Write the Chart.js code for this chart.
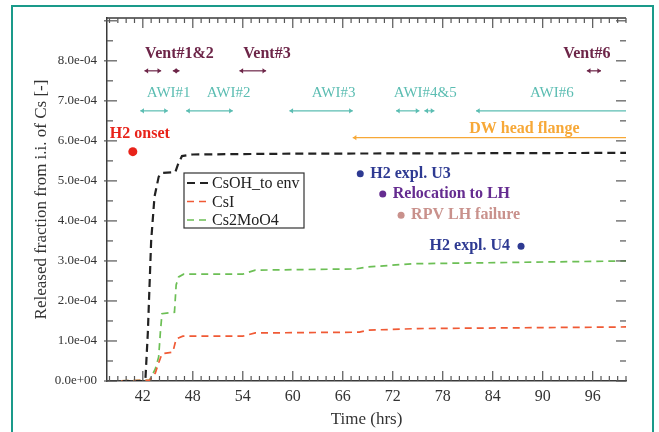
<!DOCTYPE html>
<html>
<head>
<meta charset="utf-8">
<title>Cs release</title>
<script src="https://cdn.jsdelivr.net/npm/chart.js@4.4.1/dist/chart.umd.min.js"></script>
<style>
  html, body { margin: 0; padding: 0; background: #fff; }
  #wrap { position: relative; width: 659px; height: 432px; overflow: hidden; }
  #frame { position: absolute; left: 11px; top: 5px; width: 643px; height: 450px; border: 2px solid #1a9a8a; box-sizing: border-box; }
  canvas { position: absolute; left: 0; top: 0; }
</style>
</head>
<body>
<div id="wrap">
  <div id="frame"></div>
  <canvas id="releaseChart" width="659" height="432"></canvas>
</div>
<script>
// released fraction of initial Cs inventory vs. time (hrs)
const timeCsOH = [38, 42.3, 42.6, 43.0, 43.4, 43.9, 44.3, 45.9, 46.2, 46.7, 48, 60, 80, 100];
const csOH     = [0, 0, 1.2e-4, 3.5e-4, 4.6e-4, 5.1e-4, 5.2e-4, 5.22e-4, 5.4e-4, 5.62e-4, 5.66e-4, 5.68e-4, 5.69e-4, 5.7e-4];

const timeCsI = [38, 42.8, 43.5, 43.9, 44.3, 45.6, 46.0, 46.8, 54, 55.5, 68, 69, 75, 100];
const csI     = [0, 0.02e-4, 0.2e-4, 0.45e-4, 0.68e-4, 0.72e-4, 1.05e-4, 1.12e-4, 1.12e-4, 1.2e-4, 1.22e-4, 1.27e-4, 1.31e-4, 1.35e-4];

const timeCs2MoO4 = [38, 42.8, 43.5, 43.9, 44.1, 44.3, 45.8, 46.0, 46.3, 46.9, 54, 55.5, 67.5, 69, 74.4, 100];
const cs2MoO4     = [0, 0.02e-4, 0.3e-4, 0.6e-4, 1.2e-4, 1.68e-4, 1.72e-4, 2.4e-4, 2.6e-4, 2.67e-4, 2.67e-4, 2.77e-4, 2.8e-4, 2.85e-4, 2.93e-4, 3.0e-4];

const xTicks = [42, 48, 54, 60, 66, 72, 78, 84, 90, 96];
const yTicks = [0, 1e-4, 2e-4, 3e-4, 4e-4, 5e-4, 6e-4, 7e-4, 8e-4];

// venting / AWI periods (hrs)
const ventNames  = ['Vent#1&2', 'Vent#3', 'Vent#6'];
const ventNameAt = [46.4, 56.9, 95.3];
const ventStart  = [42.2, 45.6, 53.6, 95.3];
const ventEnd    = [44.2, 46.4, 56.8, 97.0];

const awiNames  = ['AWI#1', 'AWI#2', 'AWI#3', 'AWI#4&5', 'AWI#6'];
const awiNameAt = [45.1, 52.3, 64.9, 75.9, 91.1];
const awiStart  = [41.7, 47.2, 59.6, 72.4, 75.8, 82.0];
const awiEnd    = [45.0, 52.8, 67.2, 75.2, 77.0, 100];

const flangeName = 'DW head flange';
const flangeStart = 67.2;
const flangeEnd = 100;

// single events
const eventNames = ['H2 onset', 'H2 expl. U3', 'Relocation to LH', 'RPV LH failure', 'H2 expl. U4'];
const eventTime  = [40.8, 68.1, 70.8, 73.0, 87.4];
const eventLevel = [5.73e-4, 5.18e-4, 4.67e-4, 4.14e-4, 3.37e-4];

// rows used by the period annotations (y units)
const rows = { ventText: 8.18e-4, ventArrow: 7.75e-4, awiText: 7.19e-4, awiArrow: 6.75e-4, flangeText: 6.31e-4, flangeArrow: 6.08e-4, onsetText: 6.17e-4 };

const colors = {
  vent: '#6d2548', awi: '#5bbdb2', flange: '#f7a837',
  events: ['#e8231a', '#2e3a92', '#652c90', '#c9918c', '#2e3a92']
};
const labelSide = ['above', 'right', 'right', 'right', 'left'];
const serif = '"Liberation Serif", "Times New Roman", serif';

const pts = (xs, ys) => xs.map((t, i) => ({ x: t, y: ys[i] }));

function fmtExp(v) {
  if (Math.abs(v) < 1e-12) return '0.0e+00';
  const e = Math.floor(Math.log10(v) + 1e-9);
  const m = (v / Math.pow(10, e)).toFixed(1);
  const sign = e < 0 ? '-' : '+';
  return m + 'e' + sign + String(Math.abs(e)).padStart(2, '0');
}

function arrowHead(ctx, x, y, dir, size) {
  ctx.beginPath();
  ctx.moveTo(x, y);
  ctx.lineTo(x - dir * size * 1.4, y - size);
  ctx.lineTo(x - dir * size * 1.4, y + size);
  ctx.closePath();
  ctx.fill();
}

function hArrow(ctx, x1, x2, y, color, both) {
  ctx.strokeStyle = color;
  ctx.fillStyle = color;
  ctx.lineWidth = 1.2;
  ctx.beginPath();
  ctx.moveTo(x1, y);
  ctx.lineTo(x2, y);
  ctx.stroke();
  arrowHead(ctx, x1, y, -1, 2.6);
  if (both) arrowHead(ctx, x2, y, 1, 2.6);
}

// inward ticks on all four sides, top edge line
const frameTicks = {
  id: 'frameTicks',
  afterDraw(chart) {
    const { ctx, chartArea: a, scales: { x, y } } = chart;
    const seg = (x1, y1, x2, y2) => { ctx.beginPath(); ctx.moveTo(x1, y1); ctx.lineTo(x2, y2); ctx.stroke(); };
    ctx.save();
    ctx.strokeStyle = '#3a3a3a';
    ctx.lineWidth = 1.5;
    seg(a.left, a.top, a.right, a.top);
    ctx.strokeStyle = '#555';
    ctx.lineWidth = 1.2;
    for (let h = Math.ceil(x.min); h <= x.max; h++) {
      const px = x.getPixelForValue(h);
      const len = h % 6 === 0 ? 10 : 5;
      seg(px, a.bottom, px, a.bottom - len);
      seg(px, a.top, px, a.top + len);
    }
    for (let k = 0; k * 0.5e-4 <= y.max; k++) {
      const py = y.getPixelForValue(k * 0.5e-4);
      const major = k % 2 === 0;
      if (major) seg(a.left - 3, py, a.left + 10, py); else seg(a.left, py, a.left + 6, py);
      seg(a.right - (major ? 10 : 6), py, a.right, py);
    }
    ctx.restore();
  }
};

// period arrows, event labels and the legend box
const eventNotes = {
  id: 'eventNotes',
  afterDatasetsDraw(chart) {
    const { ctx, scales: { x, y } } = chart;
    ctx.save();
    ctx.textBaseline = 'middle';
    ctx.textAlign = 'center';

    ctx.font = 'bold 16px ' + serif;
    ctx.fillStyle = colors.vent;
    ventNames.forEach((n, i) => ctx.fillText(n, x.getPixelForValue(ventNameAt[i]), y.getPixelForValue(rows.ventText)));
    ventStart.forEach((s, i) => hArrow(ctx, x.getPixelForValue(s), x.getPixelForValue(ventEnd[i]), y.getPixelForValue(rows.ventArrow), colors.vent, true));

    ctx.font = '15px ' + serif;
    ctx.fillStyle = colors.awi;
    awiNames.forEach((n, i) => ctx.fillText(n, x.getPixelForValue(awiNameAt[i]), y.getPixelForValue(rows.awiText)));
    awiStart.forEach((s, i) => {
      const open = awiEnd[i] >= x.max;
      hArrow(ctx, x.getPixelForValue(s), x.getPixelForValue(awiEnd[i]), y.getPixelForValue(rows.awiArrow), colors.awi, !open);
    });

    ctx.font = 'bold 16px ' + serif;
    ctx.fillStyle = colors.flange;
    ctx.fillText(flangeName, x.getPixelForValue(87.8), y.getPixelForValue(rows.flangeText));
    hArrow(ctx, x.getPixelForValue(flangeStart), x.getPixelForValue(flangeEnd), y.getPixelForValue(rows.flangeArrow), colors.flange, false);

    eventNames.forEach((n, i) => {
      const px = x.getPixelForValue(eventTime[i]);
      const py = y.getPixelForValue(eventLevel[i]);
      ctx.fillStyle = colors.events[i];
      if (labelSide[i] === 'above') {
        ctx.textAlign = 'center';
        ctx.fillText(n, px + 7, y.getPixelForValue(rows.onsetText));
      } else if (labelSide[i] === 'right') {
        ctx.textAlign = 'left';
        ctx.fillText(n, px + 10, py);
      } else {
        ctx.textAlign = 'right';
        ctx.fillText(n, px - 11, py);
      }
    });

    // legend for the three release curves
    const box = { left: 184, top: 173, width: 120, height: 55 };
    ctx.fillStyle = '#fff';
    ctx.fillRect(box.left, box.top, box.width, box.height);
    ctx.strokeStyle = '#333';
    ctx.lineWidth = 1.2;
    ctx.strokeRect(box.left, box.top, box.width, box.height);
    ctx.beginPath();
    ctx.rect(box.left, box.top, box.width, box.height);
    ctx.clip();
    ctx.font = '16px ' + serif;
    ctx.textAlign = 'left';
    chart.data.datasets.filter(d => d.showLine !== false).forEach((d, i) => {
      const ly = box.top + 10 + i * 18.5;
      ctx.strokeStyle = d.borderColor;
      ctx.lineWidth = d.borderWidth;
      ctx.setLineDash(d.borderDash);
      ctx.beginPath();
      ctx.moveTo(box.left + 3, ly);
      ctx.lineTo(box.left + 25, ly);
      ctx.stroke();
      ctx.setLineDash([]);
      ctx.fillStyle = '#222';
      ctx.fillText(d.label, box.left + 28, ly + 1);
    });
    ctx.restore();
  }
};

new Chart(document.getElementById('releaseChart'), {
  type: 'scatter',
  data: {
    datasets: [
      { label: 'CsOH_to env', data: pts(timeCsOH, csOH), showLine: true, borderColor: '#222', borderWidth: 2.2, borderDash: [8, 5], pointRadius: 0, tension: 0 },
      { label: 'CsI', data: pts(timeCsI, csI), showLine: true, borderColor: '#f05a35', borderWidth: 1.7, borderDash: [7, 5], pointRadius: 0, tension: 0 },
      { label: 'Cs2MoO4', data: pts(timeCs2MoO4, cs2MoO4), showLine: true, borderColor: '#6cbf55', borderWidth: 1.7, borderDash: [7, 5], pointRadius: 0, tension: 0 },
      {
        label: 'events', data: pts(eventTime, eventLevel), showLine: false,
        pointBackgroundColor: colors.events, pointBorderWidth: 0,
        pointRadius: [4.5, 3.5, 3.5, 3.5, 3.5]
      }
    ]
  },
  options: {
    responsive: false,
    animation: false,
    layout: { padding: { top: 18, right: 33, left: 0, bottom: 0 } },
    plugins: { legend: { display: false }, tooltip: { enabled: false } },
    scales: {
      x: {
        type: 'linear', min: 37.7, max: 100,
        afterBuildTicks: s => { s.ticks = xTicks.map(v => ({ value: v })); },
        afterFit: s => { s.height = 51; },
        grid: { display: false, drawTicks: false },
        border: { display: true, color: '#3a3a3a', width: 1.5 },
        ticks: { padding: 6, color: '#333', font: { family: serif, size: 16 }, callback: v => String(v) },
        title: { display: true, text: 'Time (hrs)', color: '#333', padding: { top: 0, bottom: 2 }, font: { family: serif, size: 17 } }
      },
      y: {
        type: 'linear', min: 0, max: 9.07e-4,
        afterBuildTicks: s => { s.ticks = yTicks.map(v => ({ value: v })); },
        afterFit: s => { s.width = 107; },
        grid: { display: false, drawTicks: false },
        border: { display: true, color: '#3a3a3a', width: 1.5 },
        ticks: { padding: 10, color: '#333', font: { family: serif, size: 13 }, callback: v => fmtExp(v) },
        title: { display: true, text: 'Released fraction from i.i. of Cs [-]', color: '#333', padding: { top: 31.8, bottom: 0 }, font: { family: serif, size: 17 } }
      }
    }
  },
  plugins: [frameTicks, eventNotes]
});
</script>
</body>
</html>
